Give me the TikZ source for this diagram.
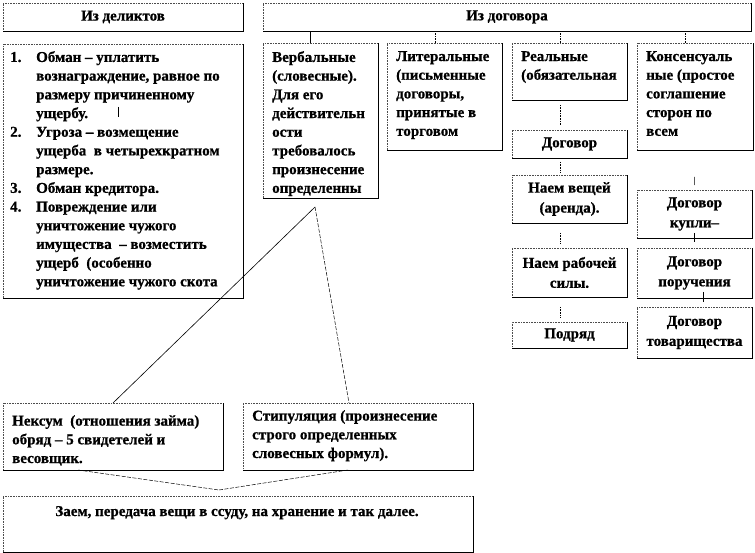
\documentclass[tikz,border=0pt]{standalone}
\usepackage{fontspec}
\setmainfont{Liberation Serif}[BoldFeatures={FakeBold=0.8}]
\tikzset{
  bx/.style={draw=black!70, densely dotted, line width=0.6pt, rectangle, inner sep=0pt, outer sep=0pt,
    align=center, font=\bfseries\fontsize{15}{20}\selectfont},
  edgeline/.style={draw=black, solid, line width=0.6pt},
  txt/.style={anchor=north west, inner sep=0pt, align=left, font=\bfseries\fontsize{15}{18.7}\selectfont},
  conn/.style={draw=black, line width=0.6pt},
  dotc/.style={draw=black, line width=0.6pt, densely dotted},
  dashc/.style={draw=black, line width=0.5pt, dash pattern=on 4pt off 1.5pt}
}
\newcommand\mkbox[6]{%
  \node[bx, minimum width=#4pt-#2pt, minimum height=#5pt-#3pt, anchor=north west] (#1) at (#2,#3) {#6};
  \draw[edgeline] (#1.south west) -- (#1.south east) -- (#1.north east);}
\newcommand\ind{\makebox[26pt]{}}
\begin{document}
\begin{tikzpicture}[x=1pt,y=-1pt]
\fill[white] (0,0) rectangle (755,553);
\useasboundingbox (0,0) rectangle (755,553);
% boxes
\mkbox{hdel}{3}{3}{243}{31}{Из деликтов}
\mkbox{hdog}{263}{3}{751}{31}{Из договора}
\mkbox{del}{3}{44}{243}{298}{}
\mkbox{verb}{263}{43}{378}{198}{}
\mkbox{lit}{387}{43}{502}{150}{}
\mkbox{real}{512}{43}{627}{100}{}
\mkbox{cons}{637}{43}{753}{150}{}
\mkbox{dog}{512}{130}{627}{158}{Договор}
\mkbox{naemv}{512}{175}{627}{223}{Наем вещей\\(аренда).}
\mkbox{naemr}{512}{248}{627}{297}{Наем рабочей\\силы.}
\mkbox{podr}{512}{322}{627}{348}{Подряд}
\mkbox{kupli}{637}{190}{752}{238}{Договор\\купли–}
\mkbox{poruch}{637}{248}{752}{298}{Договор\\поручения}
\mkbox{tovar}{637}{307}{752}{358}{Договор\\товарищества}
\mkbox{nexum}{3}{403}{223}{470}{}
\mkbox{stip}{243}{403}{473}{470}{}
\mkbox{zaem}{3}{496}{473}{552}{}
% texts
\node[txt] (tdel) at (10,51) {\makebox[26pt][l]{1.}Обман – уплатить\\
\ind вознаграждение, равное по\\
\ind размеру причиненному\\
\ind ущербу.\\
\makebox[26pt][l]{2.}Угроза – возмещение\\
\ind ущерба\ \ в четырехкратном\\
\ind размере.\\
\makebox[26pt][l]{3.}Обман кредитора.\\
\makebox[26pt][l]{4.}Повреждение или\\
\ind уничтожение чужого\\
\ind имущества\ \ – возместить\\
\ind ущерб\ \ (особенно\\
\ind уничтожение чужого скота};
\node[txt] (tverb) at (272,51) {Вербальные\\(словесные).\\Для его\\действительн\\ости\\требовалось\\произнесение\\определенны};
\node[txt] (tlit) at (396,51) {Литеральные\\(письменные\\договоры,\\принятые в\\торговом};
\node[txt] (treal) at (521,51) {Реальные\\(обязательная};
\node[txt] (tcons) at (646,51) {Консенсуаль\\ные (простое\\соглашение\\сторон по\\всем};
\node[txt] (tnex) at (12,415) {Нексум\ \ (отношения займа)\\обряд – 5 свидетелей и\\весовщик.};
\node[txt] (tstip) at (252,410) {Стипуляция (произнесение\\строго определенных\\словесных формул).};
\node[anchor=base, inner sep=0pt, font=\bfseries\fontsize{15}{18.7}\selectfont] (tzaem) at ([xshift=-1pt,yshift=-20pt]zaem.north) {Заем, передача вещи в ссуду, на хранение и так далее.};
% connectors from header
\draw[conn] ([xshift=-10.5pt]verb.north) -- ([xshift=-10.5pt]verb.north |- hdog.south);
\draw[dotc] ([xshift=-9.5pt]lit.north) -- ([xshift=-9.5pt]lit.north |- hdog.south);
\draw[dotc] ([xshift=-9.5pt]real.north) -- ([xshift=-9.5pt]real.north |- hdog.south);
\draw[dotc] ([xshift=-10pt]cons.north) -- ([xshift=-10pt]cons.north |- hdog.south);
\draw[conn] ([xshift=-5pt,yshift=-63pt]del.north) -- ([xshift=-5pt,yshift=-73pt]del.north);
% middle column
\draw[dotc, shorten <=5pt, shorten >=5pt] ([xshift=-9.5pt]real.south) -- ([xshift=-9.5pt]dog.north);
\draw[dotc, shorten <=4pt, shorten >=3pt] ([xshift=-9.5pt]dog.south) -- ([xshift=-9.5pt]naemv.north);
\draw[dotc, shorten <=10pt, shorten >=5pt] ([xshift=-9.5pt]naemv.south) -- ([xshift=-9.5pt]naemr.north);
\draw[dotc, shorten <=10pt, shorten >=5pt] ([xshift=-9.5pt]naemr.south) -- ([xshift=-9.5pt]podr.north);
% right column
\draw[conn, shorten <=27pt, shorten >=5pt] (cons.south) -- (kupli.north);
\draw[conn] ([yshift=5pt]kupli.south) -- ([yshift=6pt]poruch.north);
\draw[conn] ([xshift=8.5pt,yshift=6pt]poruch.south) -- ([xshift=8.5pt,yshift=5pt]tovar.north);
% lower connectors
\coordinate (apex) at ([xshift=-5.5pt,yshift=-9pt]verb.south);
\draw[conn] (apex) -- (nexum.north);
\draw[dashc] (apex) -- ([xshift=-9pt]stip.north);
\coordinate (meet) at ([xshift=-19pt,yshift=6pt]zaem.north);
\draw[dashc] ([xshift=-35pt]nexum.south) -- (meet);
\draw[dashc] ([xshift=-10pt]stip.south) -- (meet);
\end{tikzpicture}
\end{document}
